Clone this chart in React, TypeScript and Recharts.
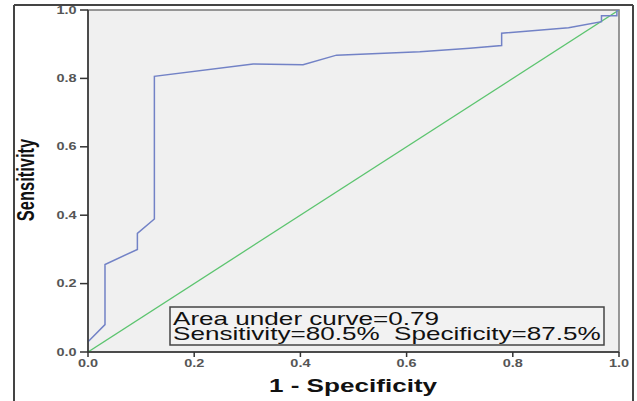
import React from "react";
import { LineChart, Line, XAxis, YAxis, ReferenceArea } from "recharts";

// ROC curve
const rocX = [0, 0.032, 0.032, 0.093, 0.093, 0.125, 0.125, 0.311, 0.405, 0.468, 0.625, 0.719, 0.779, 0.779, 0.905, 0.967, 0.967, 0.996, 0.996, 1.0];
const rocY = [0.03, 0.08, 0.256, 0.3, 0.347, 0.389, 0.806, 0.842, 0.84, 0.868, 0.878, 0.888, 0.896, 0.932, 0.948, 0.966, 0.983, 0.983, 1.0, 1.0];
const refX = [0, 1];
const refY = [0, 1];
const ticks = [0, 0.2, 0.4, 0.6, 0.8, 1.0];

const aucText = "Area under curve=0.79";
const statsText = "Sensitivity=80.5%  Specificity=87.5%";

const rocData = rocX.map((x, i) => ({ x, y: rocY[i] }));
const refData = refX.map((x, i) => ({ x, y: refY[i] }));

const W = 637;
const H = 401;
const SX = 1.45; // the source picture is stretched sideways
const font = "'Liberation Sans', Arial, sans-serif";

const YTick = ({ x, y, payload }: any) => (
  <g transform={`translate(${x},${y}) scale(${SX},1)`}>
    <text x={-1} y={0} dy={3.5} textAnchor="end" fontSize={10} fontWeight="bold" fill="#555" fontFamily={font}>
      {Number(payload.value).toFixed(1)}
    </text>
  </g>
);

const XTick = ({ x, y, payload }: any) => (
  <g transform={`translate(${x},${y}) scale(${SX},1)`}>
    <text x={0} y={8} textAnchor="middle" fontSize={10} fontWeight="bold" fill="#555" fontFamily={font}>
      {Number(payload.value).toFixed(1)}
    </text>
  </g>
);

export default function App() {
  return (
    <div style={{ position: "absolute", left: 0, top: 0, width: W, height: H, background: "#fff" }}>
      <LineChart width={W} height={H} margin={{ top: 10, right: 18, bottom: 0, left: 0 }}>
        <XAxis
          type="number"
          dataKey="x"
          domain={[0, 1]}
          ticks={ticks}
          height={49}
          tickSize={5}
          stroke="#333"
          strokeWidth={1.5}
          tick={<XTick />}
          allowDataOverflow
        />
        <YAxis
          type="number"
          dataKey="y"
          domain={[0, 1]}
          ticks={ticks}
          width={88}
          tickSize={8}
          stroke="#333"
          strokeWidth={1.5}
          tick={<YTick />}
          allowDataOverflow
        />
        <ReferenceArea x1={0} x2={1} y1={0} y2={1} fill="#f0f0f0" fillOpacity={1} stroke="#777" strokeWidth={1.5} />
        <Line data={refData} dataKey="y" type="linear" stroke="#5cc46f" strokeWidth={1.3} dot={false} isAnimationActive={false} />
        <Line data={rocData} dataKey="y" type="linear" stroke="#7282c6" strokeWidth={1.5} dot={false} isAnimationActive={false} />
      </LineChart>
      <svg width={W} height={H} style={{ position: "absolute", left: 0, top: 0, pointerEvents: "none" }}>
        {/* outer frame */}
        <line x1={14} y1={5} x2={633} y2={5} stroke="#444" strokeWidth={2} />
        <line x1={14} y1={5} x2={14} y2={H} stroke="#444" strokeWidth={2} />
        <line x1={633} y1={5} x2={633} y2={H} stroke="#444" strokeWidth={2} />

        {/* area box */}
        <rect x={170} y={307} width={434} height={38} fill="#f2f2f2" stroke="#444" strokeWidth={1.5} />
        <g transform={`translate(173,325) scale(${SX},1)`}>
          <text x={0} y={0} fontSize={18} fill="#111" fontFamily={font}>{aucText}</text>
        </g>
        <g transform={`translate(173,340) scale(${SX},1)`}>
          <text x={0} y={0} fontSize={18} fill="#111" fontFamily={font} style={{ whiteSpace: "pre" }}>{statsText}</text>
        </g>

        {/* axis titles */}
        <g transform={`translate(353,392) scale(${SX},1)`}>
          <text x={0} y={0} textAnchor="middle" fontSize={18} fontWeight="bold" fill="#111" fontFamily={font}>1 - Specificity</text>
        </g>
        <g transform={`translate(34,180) scale(${SX},1) rotate(-90)`}>
          <text x={0} y={0} textAnchor="middle" fontSize={16.5} fontWeight="bold" fill="#111" fontFamily={font}>Sensitivity</text>
        </g>
      </svg>
    </div>
  );
}
